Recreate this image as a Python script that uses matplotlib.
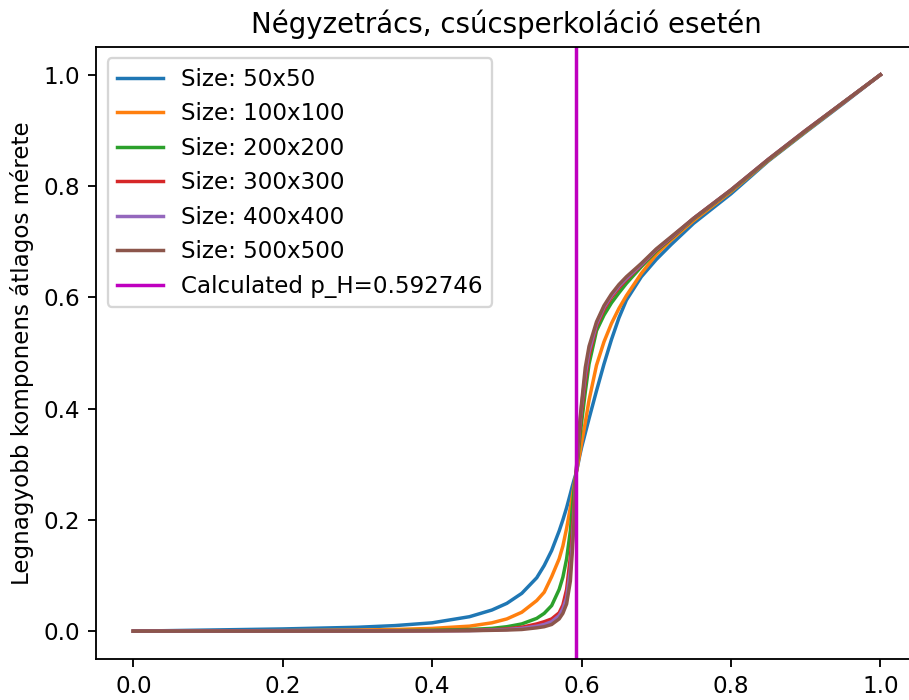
import matplotlib
matplotlib.use("Agg")
import numpy as np
from matplotlib import pyplot as plt

# occupation probability grid
p = [0.0, 0.1, 0.2, 0.3, 0.35, 0.4, 0.45, 0.48, 0.5, 0.52, 0.54, 0.55, 0.56,
     0.57, 0.575, 0.58, 0.585, 0.5875, 0.59, 0.5925, 0.595, 0.5975, 0.6, 0.605,
     0.61, 0.62, 0.63, 0.64, 0.65, 0.66, 0.68, 0.7, 0.72, 0.75, 0.8, 0.85,
     0.9, 0.95, 1.0]

sizes = [50, 100, 200, 300, 400, 500]

s50 = [0.0, 0.002, 0.004, 0.007, 0.010, 0.015, 0.026, 0.038, 0.050, 0.068, 0.096, 0.118, 0.145,
       0.18, 0.2, 0.222, 0.247, 0.26, 0.272, 0.283, 0.298, 0.315, 0.33, 0.356,
       0.382, 0.432, 0.48, 0.524, 0.563, 0.595, 0.637, 0.668, 0.695, 0.733, 0.786, 0.845,
       0.897, 0.948, 1.0]
s100 = [0.0, 0.0005, 0.001, 0.002, 0.003, 0.005, 0.009, 0.015, 0.022, 0.034, 0.055, 0.07, 0.098,
        0.13, 0.153, 0.185, 0.222, 0.242, 0.262, 0.282, 0.3, 0.318, 0.338, 0.375,
        0.415, 0.478, 0.52, 0.553, 0.58, 0.603, 0.643, 0.677, 0.703, 0.738, 0.79, 0.846,
        0.898, 0.949, 1.0]
s200 = [0.0, 0.0002, 0.0004, 0.0008, 0.001, 0.0015, 0.003, 0.005, 0.008, 0.013, 0.023, 0.032, 0.046,
        0.075, 0.097, 0.13, 0.18, 0.22, 0.255, 0.28, 0.31, 0.345, 0.375, 0.43,
        0.48, 0.54, 0.568, 0.59, 0.608, 0.625, 0.655, 0.683, 0.706, 0.741, 0.792, 0.847,
        0.899, 0.95, 1.0]
s300 = [0.0, 0.0001, 0.0002, 0.0004, 0.0005, 0.0008, 0.0015, 0.0025, 0.004, 0.007, 0.013, 0.017, 0.022,
        0.033, 0.047, 0.075, 0.133, 0.175, 0.225, 0.28, 0.32, 0.36, 0.395, 0.45,
        0.495, 0.548, 0.578, 0.6, 0.617, 0.632, 0.658, 0.685, 0.707, 0.742, 0.793, 0.848,
        0.9, 0.95, 1.0]
s400 = [0.0, 0.0001, 0.0002, 0.0003, 0.0004, 0.0006, 0.001, 0.002, 0.003, 0.005, 0.009, 0.012, 0.017,
        0.028, 0.04, 0.06, 0.11, 0.155, 0.21, 0.28, 0.325, 0.37, 0.405, 0.462,
        0.503, 0.552, 0.582, 0.603, 0.62, 0.634, 0.659, 0.686, 0.708, 0.742, 0.793, 0.848,
        0.9, 0.95, 1.0]
s500 = [0.0, 0.0001, 0.0001, 0.0002, 0.0003, 0.0005, 0.0008, 0.0015, 0.002, 0.003, 0.006, 0.008, 0.012,
        0.022, 0.032, 0.049, 0.09, 0.14, 0.2, 0.28, 0.33, 0.375, 0.41, 0.474,
        0.512, 0.556, 0.585, 0.606, 0.623, 0.637, 0.661, 0.687, 0.709, 0.742, 0.793, 0.848,
        0.9, 0.95, 1.0]

p_h = 0.592746

dpi = 166
fig = plt.figure(figsize=(909 / dpi, 700 / dpi), dpi=dpi)
ax = fig.add_axes([0.1056, 0.0586, 0.904, 0.8743])

for n, vals in zip(sizes, [s50, s100, s200, s300, s400, s500]):
    ax.plot(p, vals, label=f"Size: {n}x{n}")

ax.axvline(p_h, color="m", label=f"Calculated p_H={p_h}")

ax.set_title("Négyzetrács, csúcsperkoláció esetén")
ax.set_ylabel("Legnagyobb komponens átlagos mérete")
ax.legend(loc="upper left")

fig.savefig("out.png", dpi=dpi)
